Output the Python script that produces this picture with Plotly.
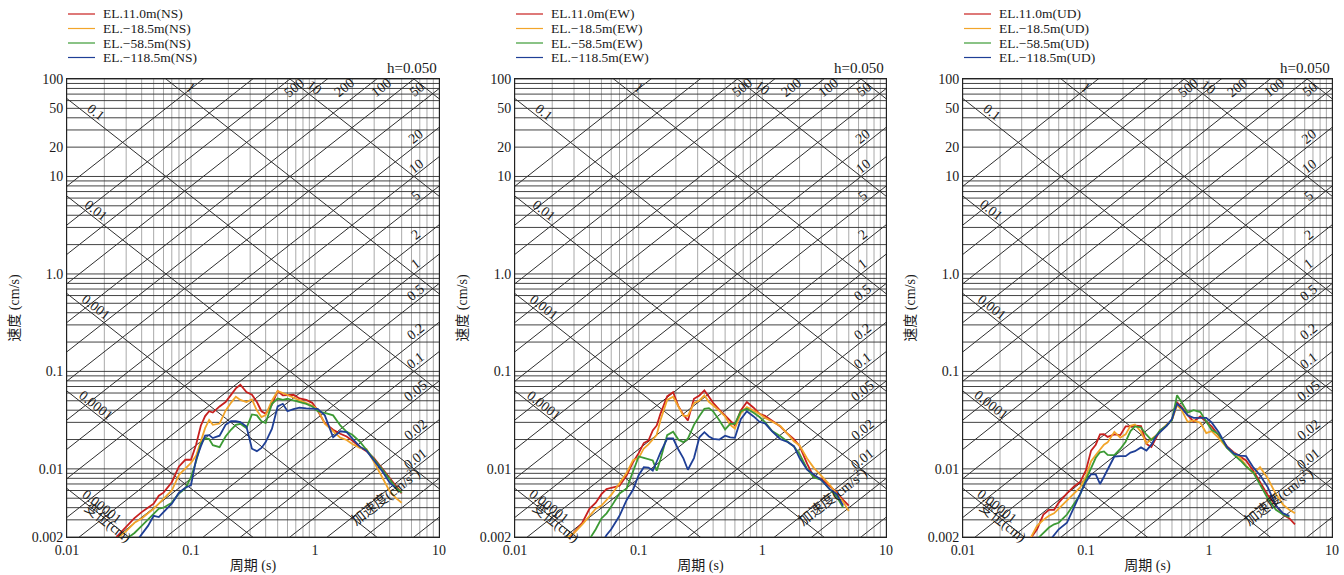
import math
import plotly.graph_objects as go

# ---------------- data ----------------
periods = [0.025, 0.03, 0.035, 0.04, 0.045, 0.05, 0.055, 0.06, 0.07, 0.08, 0.09, 0.1,
           0.11, 0.12, 0.13, 0.14, 0.15, 0.17, 0.19, 0.21, 0.23, 0.25, 0.28, 0.31,
           0.34, 0.37, 0.4, 0.45, 0.5, 0.55, 0.6, 0.67, 0.75, 0.85, 0.95, 1.05,
           1.2, 1.4, 1.6, 1.8, 2.0, 2.3, 2.6, 3.0, 3.5, 4.0, 4.5, 5.0]

ns_el_11_0 = [0.002, 0.00256, 0.00312, 0.0036, 0.004, 0.0044, 0.0053, 0.0057, 0.0073, 0.0106, 0.0124, 0.0124,
              0.0178, 0.0277, 0.0348, 0.039, 0.0378, 0.0437, 0.0485, 0.058, 0.067, 0.073, 0.0613, 0.0576,
              0.0485, 0.039, 0.0367, 0.0458, 0.063, 0.0567, 0.057, 0.0576, 0.0528, 0.051, 0.0476, 0.0397,
              0.0295, 0.0252, 0.0229, 0.0215, 0.0195, 0.0168, 0.0152, 0.0128, 0.0100, 0.00804, 0.0065, 0.0056]
ns_el_m18_5 = [0.0019, 0.0023, 0.0028, 0.0031, 0.0035, 0.0039, 0.0044, 0.0049, 0.006, 0.0087, 0.0100, 0.0115,
               0.0137, 0.0195, 0.0262, 0.0318, 0.0283, 0.0292, 0.0395, 0.0476, 0.055, 0.051, 0.0485, 0.0515,
               0.0397, 0.034, 0.0356, 0.0503, 0.0628, 0.06, 0.057, 0.0536, 0.05, 0.0473, 0.0445, 0.041,
               0.029, 0.0245, 0.0209, 0.0198, 0.018, 0.0164, 0.016, 0.0117, 0.0081, 0.0059, 0.005, 0.0045]
ns_el_m58_5 = [None, 0.0019, 0.0022, 0.0026, 0.003, 0.0034, 0.0039, 0.004, 0.0045, 0.0056, 0.0063, 0.0082,
               0.012, 0.0181, 0.0207, 0.0202, 0.0175, 0.0167, 0.0215, 0.0252, 0.0283, 0.029, 0.0262, 0.0362,
               0.0354, 0.0308, 0.0295, 0.0465, 0.0527, 0.051, 0.0524, 0.0503, 0.0485, 0.0465, 0.0437, 0.039,
               0.0376, 0.0354, 0.0279, 0.024, 0.0224, 0.019, 0.0157, 0.0126, 0.0098, 0.0078, 0.0064, 0.0057]
ns_el_m118_5 = [None, None, 0.0017, 0.0021, 0.0026, 0.0033, 0.0032, 0.0036, 0.0044, 0.0057, 0.0064, 0.0068,
                0.0125, 0.017, 0.0219, 0.0222, 0.0207, 0.0219, 0.0283, 0.0308, 0.0308, 0.0302, 0.0272, 0.0161,
                0.0152, 0.0164, 0.0188, 0.0258, 0.0437, 0.0465, 0.039, 0.041, 0.0425, 0.0417, 0.0413, 0.0413,
                0.0354, 0.0211, 0.0243, 0.0238, 0.0205, 0.0169, 0.0154, 0.0121, 0.0094, 0.0072, 0.0063, None]

ew_el_11_0 = [0.0017, 0.0022, 0.0028, 0.0039, 0.0045, 0.0055, 0.0062, 0.0064, 0.0067, 0.0086, 0.0117, 0.0145,
              0.0184, 0.0195, 0.0248, 0.0279, 0.0367, 0.0554, 0.0613, 0.0437, 0.0359, 0.0314, 0.0523, 0.0567,
              0.0638, 0.055, 0.0476, 0.0404, 0.0354, 0.0308, 0.0279, 0.0397, 0.0485, 0.0424, 0.0367, 0.035,
              0.0314, 0.0272, 0.0229, 0.0202, 0.0172, 0.0113, 0.0083, 0.0079, 0.0067, 0.0057, 0.0048, 0.0042]
ew_el_m18_5 = [0.0019, 0.0022, 0.0027, 0.0033, 0.0039, 0.0042, 0.0048, 0.0054, 0.0071, 0.0091, 0.0123, 0.0129,
               0.0162, 0.0178, 0.02, 0.0224, 0.0316, 0.051, 0.055, 0.0432, 0.035, 0.035, 0.0473, 0.0503,
               0.0567, 0.0488, 0.0452, 0.0394, 0.0345, 0.0283, 0.026, 0.0373, 0.043, 0.0397, 0.0367, 0.0334,
               0.0304, 0.0275, 0.0229, 0.0192, 0.0174, 0.0128, 0.0103, 0.0085, 0.0069, 0.0055, 0.0046, 0.0037]
ew_el_m58_5 = [None, None, None, 0.0019, 0.0024, 0.0031, 0.0035, 0.0041, 0.0056, 0.0063, 0.0096, 0.0134,
               0.013, 0.0125, 0.0122, 0.0096, 0.0125, 0.0222, 0.024, 0.0199, 0.0188, 0.0204, 0.0283, 0.0348,
               0.0413, 0.042, 0.039, 0.0314, 0.0254, 0.029, 0.029, 0.039, 0.0413, 0.0376, 0.034, 0.0302,
               0.0244, 0.0216, 0.0189, 0.017, 0.0142, 0.010, 0.0082, 0.0077, 0.0062, 0.0052, 0.004, None]
ew_el_m118_5 = [None, None, None, None, None, 0.0017, 0.0021, 0.0024, 0.0033, 0.0048, 0.0061, 0.0086,
                0.0104, 0.0103, 0.0096, 0.0119, 0.0147, 0.0205, 0.0205, 0.0157, 0.0128, 0.0098, 0.0129, 0.0211,
                0.0238, 0.0215, 0.0203, 0.02, 0.0219, 0.0211, 0.0208, 0.0324, 0.039, 0.0345, 0.0304, 0.0293,
                0.0242, 0.0202, 0.0189, 0.0171, 0.0129, 0.0098, 0.0087, 0.0077, 0.0062, 0.0055, 0.0042, None]

ud_el_11_0 = [None, None, 0.0019, 0.0024, 0.0034, 0.0038, 0.0038, 0.0045, 0.0056, 0.0066, 0.0074, 0.0097,
              0.0154, 0.0177, 0.0226, 0.0227, 0.0213, 0.0226, 0.0222, 0.0273, 0.0273, 0.0277, 0.0275, 0.018,
              0.0168, 0.0207, 0.0248, 0.0277, 0.0318, 0.048, 0.043, 0.0355, 0.0306, 0.0345, 0.0303, 0.0273,
              0.022, 0.017, 0.0147, 0.0132, 0.0122, 0.0095, 0.0072, 0.0054, 0.0042, 0.0034, 0.0031, 0.0027]
ud_el_m18_5 = [None, None, 0.0019, 0.0026, 0.003, 0.0033, 0.0035, 0.0039, 0.0048, 0.0057, 0.0065, 0.0084,
               0.012, 0.0139, 0.016, 0.0177, 0.0187, 0.024, 0.0209, 0.0226, 0.0277, 0.0285, 0.024, 0.0182,
               0.0202, 0.0219, 0.0238, 0.0283, 0.0318, 0.045, 0.040, 0.0304, 0.0314, 0.0297, 0.0233, 0.0244,
               0.0207, 0.0164, 0.0145, 0.013, 0.0108, 0.009, 0.0104, 0.008, 0.0055, 0.0043, 0.0038, 0.0035]
ud_el_m58_5 = [None, None, None, 0.0019, 0.0022, 0.0025, 0.0027, 0.0028, 0.0034, 0.0044, 0.0055, 0.0078,
               0.010, 0.013, 0.0148, 0.0151, 0.0139, 0.0138, 0.016, 0.019, 0.0244, 0.0273, 0.0266, 0.0224,
               0.0198, 0.0217, 0.0248, 0.0277, 0.0316, 0.057, 0.048, 0.0377, 0.04, 0.0383, 0.0306, 0.0252,
               0.0226, 0.0164, 0.0139, 0.0122, 0.0106, 0.0091, 0.0069, 0.005, 0.0038, 0.0034, 0.0032, None]
ud_el_m118_5 = [None, None, None, None, None, 0.0018, 0.0021, 0.0024, 0.0028, 0.0041, 0.0056, 0.0074,
                0.0088, 0.0088, 0.007, 0.0083, 0.0099, 0.0134, 0.0135, 0.0135, 0.0147, 0.0152, 0.0166, 0.0154,
                0.0177, 0.0215, 0.0238, 0.0275, 0.0324, 0.0465, 0.042, 0.0354, 0.0334, 0.0334, 0.0334, 0.03,
                0.0238, 0.0168, 0.0143, 0.0137, 0.0135, 0.0103, 0.0086, 0.0065, 0.0042, 0.0035, 0.0033, None]

components = ["NS", "EW", "UD"]
elevations = ["EL.11.0m", "EL.\u221218.5m", "EL.\u221258.5m", "EL.\u2212118.5m"]
panel_series = [
    [ns_el_11_0, ns_el_m18_5, ns_el_m58_5, ns_el_m118_5],
    [ew_el_11_0, ew_el_m18_5, ew_el_m58_5, ew_el_m118_5],
    [ud_el_11_0, ud_el_m18_5, ud_el_m58_5, ud_el_m118_5],
]
colors = ["#c8201e", "#f2a52a", "#3c9a34", "#1f3f96"]

# tripartite grid levels
disp_levels = [1e-5, 1e-4, 1e-3, 1e-2, 1e-1, 1, 10, 100]            # cm
acc_levels = [m * 10.0 ** e for e in range(-3, 4) for m in (1, 2, 5)]  # cm/s^2
disp_left_labels = [(0.1, "0.1"), (0.01, "0.01"), (0.001, "0.001"), (0.0001, "0.0001"), (0.00001, "0.00001")]
disp_top_labels = [(1, "1"), (10, "10")]
acc_top_labels = [(500, "500"), (200, "200"), (100, "100"), (50, "50")]
acc_right_labels = [(20, "20"), (10, "10"), (5, "5"), (2, "2"), (1, "1"), (0.5, "0.5"), (0.2, "0.2"),
                    (0.1, "0.1"), (0.05, "0.05"), (0.02, "0.02"), (0.01, "0.01")]
y_ticks = [0.002, 0.01, 0.1, 1, 10, 20, 50, 100]
y_ticktext = ["0.002", "0.01", "0.1", "1.0", "10", "20", "50", "100"]
x_ticks = [0.01, 0.1, 1, 10]
x_ticktext = ["0.01", "0.1", "1", "10"]

T_MIN, T_MAX = 0.01, 10.0
V_MIN, V_MAX = 0.002, 100.0
TWO_PI = 2 * math.pi

# ---------------- layout geometry ----------------
W, H = 1344, 575
PANEL_W = 448
x_domains = [(67 / W, 439 / W), (515 / W, 886 / W), (963 / W, 1332 / W)]
y_domain = (1 - 537 / H, 1 - 79 / H)

SERIF = "Liberation Serif, Times New Roman, serif"
CJK = "Liberation Serif, Noto Sans CJK SC, serif"
TXT = "#1a1a1a"
GRID_DARK = "#2e2e2e"

fig = go.Figure()

minor_T = [m * 10.0 ** e for e in range(-2, 1) for m in range(1, 10)] + [10.0]
minor_V = [m * 10.0 ** e for e in range(-3, 2) for m in range(1, 10)] + [100.0]
minor_V = [v for v in minor_V if V_MIN * 0.999 <= v <= V_MAX * 1.001]

annotations = []
shapes = []
for p in range(3):
    xa = "x" if p == 0 else f"x{p + 1}"
    ya = "y" if p == 0 else f"y{p + 1}"

    # vertical grid (light)
    xs, ys = [], []
    for t in minor_T:
        xs += [t, t, None]
        ys += [V_MIN, V_MAX, None]
    fig.add_trace(go.Scatter(x=xs, y=ys, mode="lines", line=dict(color="#a0a0a0", width=0.9),
                             hoverinfo="skip", showlegend=False, xaxis=xa, yaxis=ya))
    # horizontal grid (dark)
    xs, ys = [], []
    for v in minor_V:
        xs += [T_MIN, T_MAX, None]
        ys += [v, v, None]
    fig.add_trace(go.Scatter(x=xs, y=ys, mode="lines", line=dict(color=GRID_DARK, width=0.9),
                             hoverinfo="skip", showlegend=False, xaxis=xa, yaxis=ya))
    # diagonal lines
    xs, ys = [], []
    for d in disp_levels:
        xs += [T_MIN, T_MAX, None]
        ys += [TWO_PI * d / T_MIN, TWO_PI * d / T_MAX, None]
    for a in acc_levels:
        xs += [T_MIN, T_MAX, None]
        ys += [a * T_MIN / TWO_PI, a * T_MAX / TWO_PI, None]
    fig.add_trace(go.Scatter(x=xs, y=ys, mode="lines", line=dict(color=GRID_DARK, width=1.0),
                             hoverinfo="skip", showlegend=False, xaxis=xa, yaxis=ya))

    # response spectra
    for k in range(4):
        fig.add_trace(go.Scatter(
            x=periods, y=panel_series[p][k], mode="lines",
            name=f"{elevations[k]}({components[p]})",
            line=dict(color=colors[k], width=1.8),
            connectgaps=False, xaxis=xa, yaxis=ya, showlegend=False))

    # compact legend (line sample + label) above each panel
    for k in range(4):
        yk = 1 - (14 + 14.5 * k) / H
        x0 = (p * PANEL_W + 68) / W
        x1 = (p * PANEL_W + 95) / W
        shapes.append(dict(type="line", xref="paper", yref="paper", x0=x0, x1=x1, y0=yk, y1=yk,
                           line=dict(color=colors[k], width=1.2)))
        annotations.append(dict(x=(p * PANEL_W + 101) / W, y=yk, xref="paper", yref="paper",
                                xanchor="left", yanchor="middle", showarrow=False,
                                text=f"{elevations[k]}({components[p]})",
                                font=dict(family=SERIF, size=13.5, color=TXT)))

    # diagonal labels
    def add_lab(t, v, text, angle, xshift=0, yshift=0, size=14):
        annotations.append(dict(x=math.log10(t), y=math.log10(v), xref=xa, yref=ya, text=text,
                                showarrow=False, textangle=angle, xshift=xshift, yshift=yshift,
                                xanchor="center", yanchor="middle",
                                font=dict(family=SERIF, size=size, color=TXT)))

    for d, txt in disp_left_labels:
        t = 0.0172 if d > 1e-5 else 0.019
        add_lab(t, TWO_PI * d / t, txt, 38, yshift=9)
    for d, txt in disp_top_labels:
        v = 81.0
        add_lab(TWO_PI * d / v, v, txt, 38, xshift=13)
    for a, txt in acc_top_labels:
        t = min(TWO_PI * 81.0 / a, 9.8)
        add_lab(t, a * t / TWO_PI, txt, -38, xshift=-21)
    for a, txt in acc_right_labels:
        t = 6.5
        add_lab(t, a * t / TWO_PI, txt, -38, yshift=9)

    annotations.append(dict(x=0.108, y=0.03, xref=f"{xa} domain", yref=f"{ya} domain",
                            xanchor="center", yanchor="middle",
                            text="变位(cm)", showarrow=False, textangle=38,
                            font=dict(family=CJK, size=14, color=TXT)))
    annotations.append(dict(x=0.855, y=0.088, xref=f"{xa} domain", yref=f"{ya} domain",
                            xanchor="center", yanchor="middle",
                            text="加速度(cm/s<sup>2</sup>)", showarrow=False, textangle=-38,
                            font=dict(family=CJK, size=14, color=TXT)))
    annotations.append(dict(x=1.0, y=1.0, xref=f"{xa} domain", yref=f"{ya} domain",
                            text="h=0.050", showarrow=False, xanchor="right", yanchor="bottom",
                            yshift=1, font=dict(family=SERIF, size=15, color=TXT)))

    axis_common = dict(showgrid=False, zeroline=False, showline=True, linecolor="#222",
                       linewidth=1, mirror=True, ticks="", automargin=False,
                       tickfont=dict(family=SERIF, size=14, color=TXT))
    fig.update_layout(**{
        ("xaxis" if p == 0 else f"xaxis{p + 1}"): dict(
            type="log", range=[math.log10(T_MIN), math.log10(T_MAX)], domain=list(x_domains[p]),
            anchor=ya, tickvals=x_ticks, ticktext=x_ticktext,
            title=dict(text="周期 (s)", font=dict(family=CJK, size=14, color=TXT), standoff=3),
            **axis_common),
        ("yaxis" if p == 0 else f"yaxis{p + 1}"): dict(
            type="log", range=[math.log10(V_MIN), math.log10(V_MAX)], domain=list(y_domain),
            anchor=xa, tickvals=y_ticks, ticktext=y_ticktext,
            title=dict(text="速度 (cm/s)", font=dict(family=CJK, size=14, color=TXT), standoff=8),
            **axis_common),
    })

fig.update_layout(width=W, height=H, margin=dict(l=0, r=0, t=0, b=0, autoexpand=False),
                  paper_bgcolor="white", plot_bgcolor="white",
                  annotations=annotations, shapes=shapes, showlegend=False)

fig.write_html("out.html", config={"displayModeBar": False},
               post_script="document.body.style.margin='0px';document.body.style.overflow='hidden';")
